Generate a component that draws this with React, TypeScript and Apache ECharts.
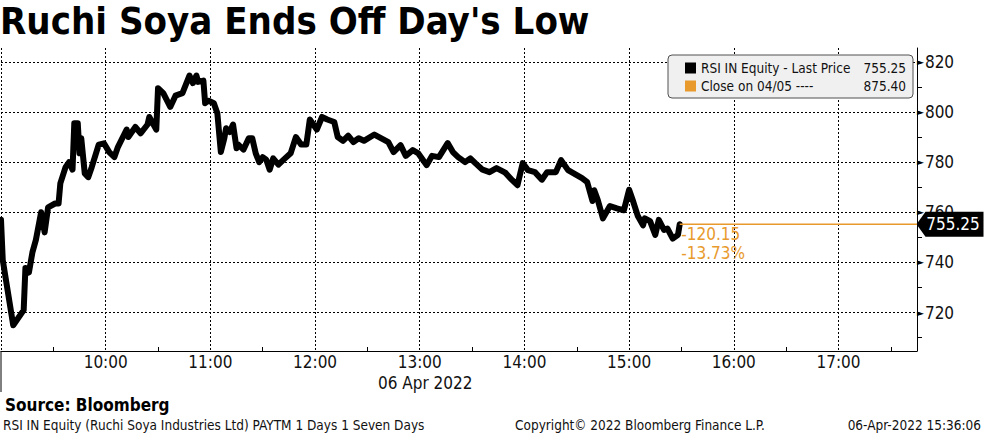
import { useEffect, useRef } from 'react'
import * as echarts from 'echarts'

const times = [
  '09:00', '09:01', '09:07', '09:13', '09:14', '09:16', '09:18', '09:20', '09:23', '09:25',
  '09:27', '09:31', '09:33', '09:34', '09:37', '09:39', '09:41', '09:42', '09:44', '09:45',
  '09:46', '09:48', '09:50', '09:52', '09:56', '09:59', '10:02', '10:05', '10:07', '10:12',
  '10:13', '10:17', '10:20', '10:24', '10:25', '10:29', '10:30', '10:33', '10:37', '10:40',
  '10:44', '10:48', '10:50', '10:52', '10:53', '10:56', '10:57', '10:59', '11:02', '11:04',
  '11:06', '11:08', '11:09', '11:11', '11:13', '11:15', '11:16', '11:19', '11:22', '11:24',
  '11:26', '11:28', '11:30', '11:32', '11:34', '11:36', '11:39', '11:42', '11:46', '11:49',
  '11:52', '11:55', '11:57', '12:01', '12:04', '12:07', '12:11', '12:13', '12:16', '12:19',
  '12:22', '12:25', '12:28', '12:34', '12:38', '12:42', '12:45', '12:49', '12:52', '12:56',
  '12:59', '13:04', '13:07', '13:11', '13:16', '13:19', '13:22', '13:26', '13:29', '13:32',
  '13:36', '13:40', '13:44', '13:49', '13:53', '13:56', '13:59', '14:02', '14:06', '14:10',
  '14:13', '14:18', '14:21', '14:25', '14:28', '14:33', '14:36', '14:39', '14:40', '14:42',
  '14:45', '14:49', '14:53', '14:57', '15:00', '15:02', '15:05', '15:08', '15:09', '15:12',
  '15:15', '15:17', '15:20', '15:22', '15:25', '15:28', '15:29',
]
const prices = [
  757, 741, 715, 721, 737.8, 736, 744, 749, 760, 752,
  762, 763.5, 763.5, 771.5, 778, 780, 777, 795.5, 795.5, 783.5,
  789.5, 775.5, 774, 778, 787, 787.5, 784, 782, 786, 793,
  790, 794, 791.5, 795, 798, 793, 809.5, 807.5, 802, 806.5,
  807.5, 814.5, 811.5, 814.5, 812, 812.5, 803.5, 804.5, 803.5, 799.5,
  784, 789.5, 793.5, 792, 795, 785.5, 787, 785, 789.5, 789.5,
  783.5, 780, 782, 781, 777, 781.5, 779, 781, 783.5, 790,
  787, 787, 797, 793, 798, 797, 796, 790, 788.5, 790.5,
  788, 789.5, 788.5, 791, 789.5, 788, 784, 786.8, 782.5, 784.8,
  783.6, 778.8, 782.5, 782, 787.6, 784, 782, 780, 781.5, 779.5,
  777, 776, 777.6, 775.8, 772.8, 770.8, 779.6, 776.8, 776, 773,
  776, 776, 780.8, 776.8, 775.6, 773.6, 772, 764.5, 768.8, 765,
  757.6, 762.5, 761.6, 760.8, 769, 765, 758.5, 754.8, 757.6, 756.5,
  751, 757, 753, 753.5, 749.5, 751, 755.25,
]
const hourTicks = ['10:00', '11:00', '12:00', '13:00', '14:00', '15:00', '16:00', '17:00']
const lastPrice = 755.25
const prevClose = 875.4
const axisStart = '09:00'
const axisEnd = '17:45'

const FONT = '"DejaVu Sans Condensed", "DejaVu Sans", sans-serif'
const ORANGE = '#e89a2c'

const toMin = (t: string) => {
  const [h, m] = t.split(':').map(Number)
  return h * 60 + m
}
const fmtMin = (v: number) => {
  const h = Math.floor(v / 60)
  return `${h < 10 ? '0' : ''}${h}:00`
}

export default function App() {
  const ref = useRef<HTMLDivElement | null>(null)

  useEffect(() => {
    if (!ref.current) return
    const chart = echarts.init(ref.current, null, { renderer: 'svg' })
    const xMin = toMin(axisStart)
    const xMax = toMin(axisEnd)
    const lastT = toMin(times[times.length - 1])
    const diff = lastPrice - prevClose
    const pct = (diff / prevClose) * 100
    const shown = hourTicks.map(toMin)

    chart.setOption({
      animation: false,
      backgroundColor: '#fff',
      textStyle: { fontFamily: FONT },
      grid: { left: 1, right: 67, top: 48, bottom: 84 },
      legend: {
        left: 668,
        top: 55,
        orient: 'vertical',
        icon: 'rect',
        itemWidth: 11,
        itemHeight: 11,
        itemGap: 4,
        padding: [6, 7, 5, 17],
        backgroundColor: '#f0f0f0',
        borderColor: '#505050',
        borderWidth: 1,
        borderRadius: 4,
        selectedMode: false,
        data: ['RSI IN Equity - Last Price', 'Close on 04/05 ----'],
        formatter: (name: string) => {
          const v = name.startsWith('RSI') ? lastPrice : prevClose
          return `{n|${name}}{v|${v.toFixed(2)}}`
        },
        textStyle: {
          fontFamily: FONT,
          fontSize: 13.5,
          color: '#111',
          rich: {
            n: { width: 160, fontSize: 13.5, fontFamily: FONT, color: '#111' },
            v: { width: 45, align: 'right', fontSize: 13.5, fontFamily: FONT, color: '#111' },
          },
        },
      },
      xAxis: {
        type: 'value',
        min: xMin,
        max: xMax,
        interval: 60,
        axisLine: { onZero: false, lineStyle: { color: '#000', width: 1 } },
        axisTick: { show: false, inside: true },
        minorTick: { show: true, splitNumber: 2, length: 4, lineStyle: { color: '#000' } },
        splitLine: {
          show: true,
          showMaxLine: false,
          lineStyle: { color: '#000', type: [2, 2], width: 1 },
        },
        axisLabel: {
          margin: 2,
          fontSize: 17,
          color: '#111',
          fontFamily: FONT,
          showMinLabel: false,
          showMaxLabel: false,
          formatter: (v: number) => (shown.includes(v) ? fmtMin(v) : ''),
        },
      },
      yAxis: {
        type: 'value',
        position: 'right',
        min: 704.7,
        max: 825.5,
        splitNumber: 6,
        axisLine: { show: true, lineStyle: { color: '#000', width: 1 } },
        axisTick: { show: false },
        minorTick: { show: true, splitNumber: 2, length: 5, lineStyle: { color: '#000' } },
        splitLine: {
          show: true,
          showMinLine: false,
          showMaxLine: false,
          lineStyle: { color: '#000', type: [2, 2], width: 1 },
        },
        axisLabel: {
          margin: 0,
          showMinLabel: false,
          showMaxLabel: false,
          formatter: (v: number) => (v % 20 === 0 ? `{a|►}{b|${v}}` : ''),
          rich: {
            a: { fontSize: 9, color: '#000', fontFamily: 'DejaVu Sans', padding: [0, 1, 0, 0] },
            b: { fontSize: 17, color: '#111', fontFamily: FONT },
          },
        },
      },
      series: [
        {
          name: 'RSI IN Equity - Last Price',
          type: 'line',
          data: times.map((t, i) => [toMin(t), prices[i]]),
          showSymbol: false,
          color: '#000',
          lineStyle: { color: '#000', width: 6, join: 'round', cap: 'round' },
          z: 5,
        },
        {
          name: 'Close on 04/05 ----',
          type: 'line',
          data: [],
          color: ORANGE,
        },
        {
          name: 'delta',
          type: 'line',
          data: [
            [lastT, lastPrice],
            [xMax, lastPrice],
          ],
          showSymbol: false,
          color: ORANGE,
          lineStyle: { color: ORANGE, width: 1.5 },
          clip: false,
          z: 6,
          markPoint: {
            silent: true,
            data: [
              {
                coord: [xMax, lastPrice],
                symbol: 'path://M0,12 L9,0 L67,0 L67,24 L9,24 Z',
                symbolSize: [67, 25],
                symbolKeepAspect: false,
                symbolOffset: [33, 0],
                itemStyle: { color: '#000' },
                label: {
                  show: true,
                  position: 'inside',
                  offset: [3, 0],
                  formatter: lastPrice.toFixed(2),
                  color: '#fff',
                  fontSize: 17,
                  fontFamily: FONT,
                },
              },
              {
                coord: [lastT, lastPrice],
                symbol: 'rect',
                symbolSize: 1,
                itemStyle: { color: 'rgba(0,0,0,0)' },
                label: {
                  show: true,
                  position: [2, 1],
                  align: 'left',
                  verticalAlign: 'top',
                  formatter: `${diff.toFixed(2)}\n${pct.toFixed(2)}%`,
                  color: ORANGE,
                  fontSize: 17,
                  lineHeight: 19,
                  fontFamily: FONT,
                },
              },
            ],
          },
        },
      ],
      graphic: [
        {
          type: 'text',
          left: 0,
          top: 2,
          style: {
            text: "Ruchi Soya Ends Off Day's Low",
            font: `bold 38px ${FONT}`,
            fill: '#000',
          },
        },
        {
          type: 'group',
          left: 675,
          top: 65,
          children: [
            { type: 'rect', shape: { x: 0, y: 0, width: 6, height: 6 }, style: { fill: '#fff', stroke: '#777', lineWidth: 1 } },
            { type: 'line', shape: { x1: 1.5, y1: 3, x2: 4.5, y2: 3 }, style: { stroke: '#777', lineWidth: 1 } },
            { type: 'line', shape: { x1: 3, y1: 6, x2: 3, y2: 22 }, style: { stroke: '#777', lineWidth: 1 } },
            { type: 'line', shape: { x1: 3, y1: 22, x2: 9, y2: 22 }, style: { stroke: '#777', lineWidth: 1 } },
          ],
        },
        {
          type: 'line',
          shape: { x1: 1, y1: 351, x2: 1, y2: 392 },
          style: { stroke: '#000', lineWidth: 1 },
        },
        {
          type: 'text',
          left: 378,
          top: 374,
          style: { text: '06 Apr 2022', font: `17px ${FONT}`, fill: '#111' },
        },
        {
          type: 'text',
          left: 5,
          top: 396,
          style: { text: 'Source: Bloomberg', font: `bold 17px ${FONT}`, fill: '#000' },
        },
        {
          type: 'text',
          left: 3,
          top: 418,
          style: {
            text: 'RSI IN Equity (Ruchi Soya Industries Ltd) PAYTM 1 Days 1 Seven Days',
            font: `13.5px ${FONT}`,
            fill: '#111',
          },
        },
        {
          type: 'text',
          left: 515,
          top: 418,
          style: { text: 'Copyright© 2022 Bloomberg Finance L.P.', font: `13.5px ${FONT}`, fill: '#111' },
        },
        {
          type: 'text',
          right: 3,
          top: 418,
          style: { text: '06-Apr-2022 15:36:06', font: `13.5px ${FONT}`, fill: '#111' },
        },
      ],
    })
    return () => chart.dispose()
  }, [])

  return (
    <div
      ref={ref}
      style={{ position: 'absolute', left: 0, top: 0, width: 984, height: 435 }}
    />
  )
}
